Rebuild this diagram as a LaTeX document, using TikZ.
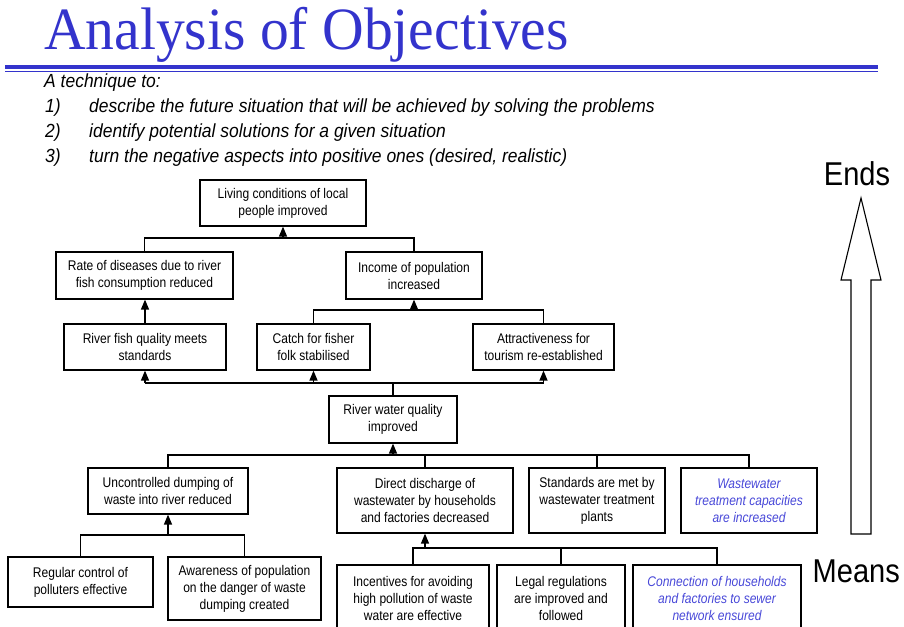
\documentclass[tikz,border=0pt]{standalone}
\usepackage{fontspec}
\setmainfont{Liberation Sans}
\newfontfamily\titlefont{Liberation Serif}[FakeStretch=0.96]
\newfontfamily\boxfont{Liberation Sans}[FakeStretch=0.86]
\newfontfamily\introfont{Liberation Sans}[FakeStretch=0.92]
\newfontfamily\sidefont{Liberation Sans}[FakeStretch=0.88]
\usetikzlibrary{arrows.meta}
\definecolor{titleblue}{HTML}{3333CC}
\definecolor{noteblue}{HTML}{4848D8}

\begin{document}
\begin{tikzpicture}[x=1pt,y=-1pt,
  objbox/.style={draw, line width=1.2pt, inner sep=0pt, align=center,
    font=\boxfont\fontsize{14}{17}\selectfont},
  newbox/.style={objbox, text=noteblue,
    font=\boxfont\itshape\fontsize{14}{17}\selectfont},
  link/.style={line width=1.3pt},
  uparrow/.style={line width=1.3pt, -{Triangle[width=8pt,length=10pt]}},
  intro/.style={anchor=base west, inner sep=0pt,
    font=\introfont\itshape\fontsize{19}{21}\selectfont},
  sidelabel/.style={inner sep=0pt, font=\sidefont\fontsize{33}{35}\selectfont},
]
\useasboundingbox (0,0) rectangle (904,626);

% heading and rule
\node[anchor=base west, inner sep=0pt, text=titleblue,
  font=\titlefont\fontsize{60}{62}\selectfont] (title) at (44,49.5) {Analysis of Objectives};
\fill[titleblue] (5,65) rectangle (878,69);
\fill[titleblue] (5,70.6) rectangle (878,71.8);

% introductory list
\node[intro] (lead) at (44,87) {A technique to:};
\node[intro] (n1) at (45,112) {1)};
\node[intro] (t1) at (89,112) {describe the future situation that will be achieved by solving the problems};
\node[intro] (n2) at (45,137) {2)};
\node[intro] (t2) at (89,137) {identify potential solutions for a given situation};
\node[intro] (n3) at (45,162) {3)};
\node[intro] (t3) at (89,162) {turn the negative aspects into positive ones (desired, realistic)};

% objective boxes
\node[objbox, minimum width=166pt, minimum height=46pt] (live) at (283,203)
  {Living conditions of local\\people improved};
\node[objbox, minimum width=177pt, minimum height=47pt] (rate) at (144.5,275.5)
  {Rate of diseases due to river\\fish consumption reduced};
\node[objbox, minimum width=136pt, minimum height=47pt] (inc) at (414,275.5)
  {Income of population\\increased};
\node[objbox, minimum width=162pt, minimum height=46pt] (fish) at (145,347)
  {River fish quality meets\\standards};
\node[objbox, minimum width=113pt, minimum height=46pt] (catch) at (313.5,347)
  {Catch for fisher\\folk stabilised};
\node[objbox, minimum width=141pt, minimum height=46pt] (attr) at (543.5,347)
  {Attractiveness for\\tourism re-established};
\node[objbox, minimum width=128pt, minimum height=47pt] (rwq) at (393,419.5)
  {River water quality\\improved};
\node[objbox, minimum width=160pt, minimum height=46pt] (unc) at (168,491)
  {Uncontrolled dumping of\\waste into river reduced};
\node[objbox, minimum width=176pt, minimum height=65pt] (dir) at (425,500.5)
  {Direct discharge of\\wastewater by households\\and factories decreased};
\node[objbox, minimum width=136pt, minimum height=65pt] (std) at (597,500.5)
  {Standards are met by\\wastewater treatment\\plants};
\node[newbox, minimum width=136pt, minimum height=65pt] (cap) at (749,500.5)
  {Wastewater\\treatment capacities\\are increased};
\node[objbox, minimum width=145pt, minimum height=50pt] (reg) at (80.5,582)
  {Regular control of\\polluters effective};
\node[objbox, minimum width=153pt, minimum height=63pt] (aware) at (244.5,588.5)
  {Awareness of population\\on the danger of waste\\dumping created};
\node[objbox, minimum width=152pt, minimum height=67pt] (incent) at (413,598.5)
  {Incentives for avoiding\\high pollution of waste\\water are effective};
\node[objbox, minimum width=128pt, minimum height=67pt] (legal) at (561,598.5)
  {Legal regulations\\are improved and\\followed};
\node[newbox, minimum width=168pt, minimum height=67pt] (conn) at (717,598.5)
  {Connection of households\\and factories to sewer\\network ensured};

% junction points of the connectors
\coordinate (j1) at (283,238);
\coordinate (j2) at (414,310);
\coordinate (j3) at (393,383);
\coordinate (j4) at (393,455);
\coordinate (j5) at (168,535);
\coordinate (j6) at (425,548);

% means-ends links
\draw[link] (rate.north) |- (j1) -| (inc.north);
\draw[uparrow] (j1) -- (live.south);

\draw[uparrow] (fish.north) -- (fish.north |- rate.south);

\draw[link] (catch.north) |- (j2) -| (attr.north);
\draw[uparrow] (j2) -- (inc.south);

\draw[link] (rwq.north) -- (j3);
\draw[link] (j3 -| fish.south) -- (j3 -| attr.south);
\draw[uparrow] (j3 -| fish.south) -- (fish.south);
\draw[uparrow] (j3 -| catch.south) -- (catch.south);
\draw[uparrow] (j3 -| attr.south) -- (attr.south);

\draw[link] (unc.north) |- (j4) -| (cap.north);
\draw[link] (dir.north) -- (dir.north |- j4);
\draw[link] (std.north) -- (std.north |- j4);
\draw[uparrow] (j4) -- (rwq.south);

\draw[link] (reg.north) |- (j5) -| (aware.north);
\draw[uparrow] (j5) -- (unc.south);

\draw[link] (incent.north) |- (j6) -| (conn.north);
\draw[link] (legal.north) -- (legal.north |- j6);
\draw[uparrow] (j6) -- (dir.south);

% means-to-ends direction
\draw[line width=1.1pt, fill=white, line join=miter]
  (851,534) -- (851,280) -- (841,280) -- (861,198) -- (881,280) -- (871,280) -- (871,534) -- cycle;
\node[sidelabel, anchor=base] (ends) at (857,185) {Ends};
\node[sidelabel, anchor=base west] (means) at (812.5,582) {Means};
\end{tikzpicture}
\end{document}
